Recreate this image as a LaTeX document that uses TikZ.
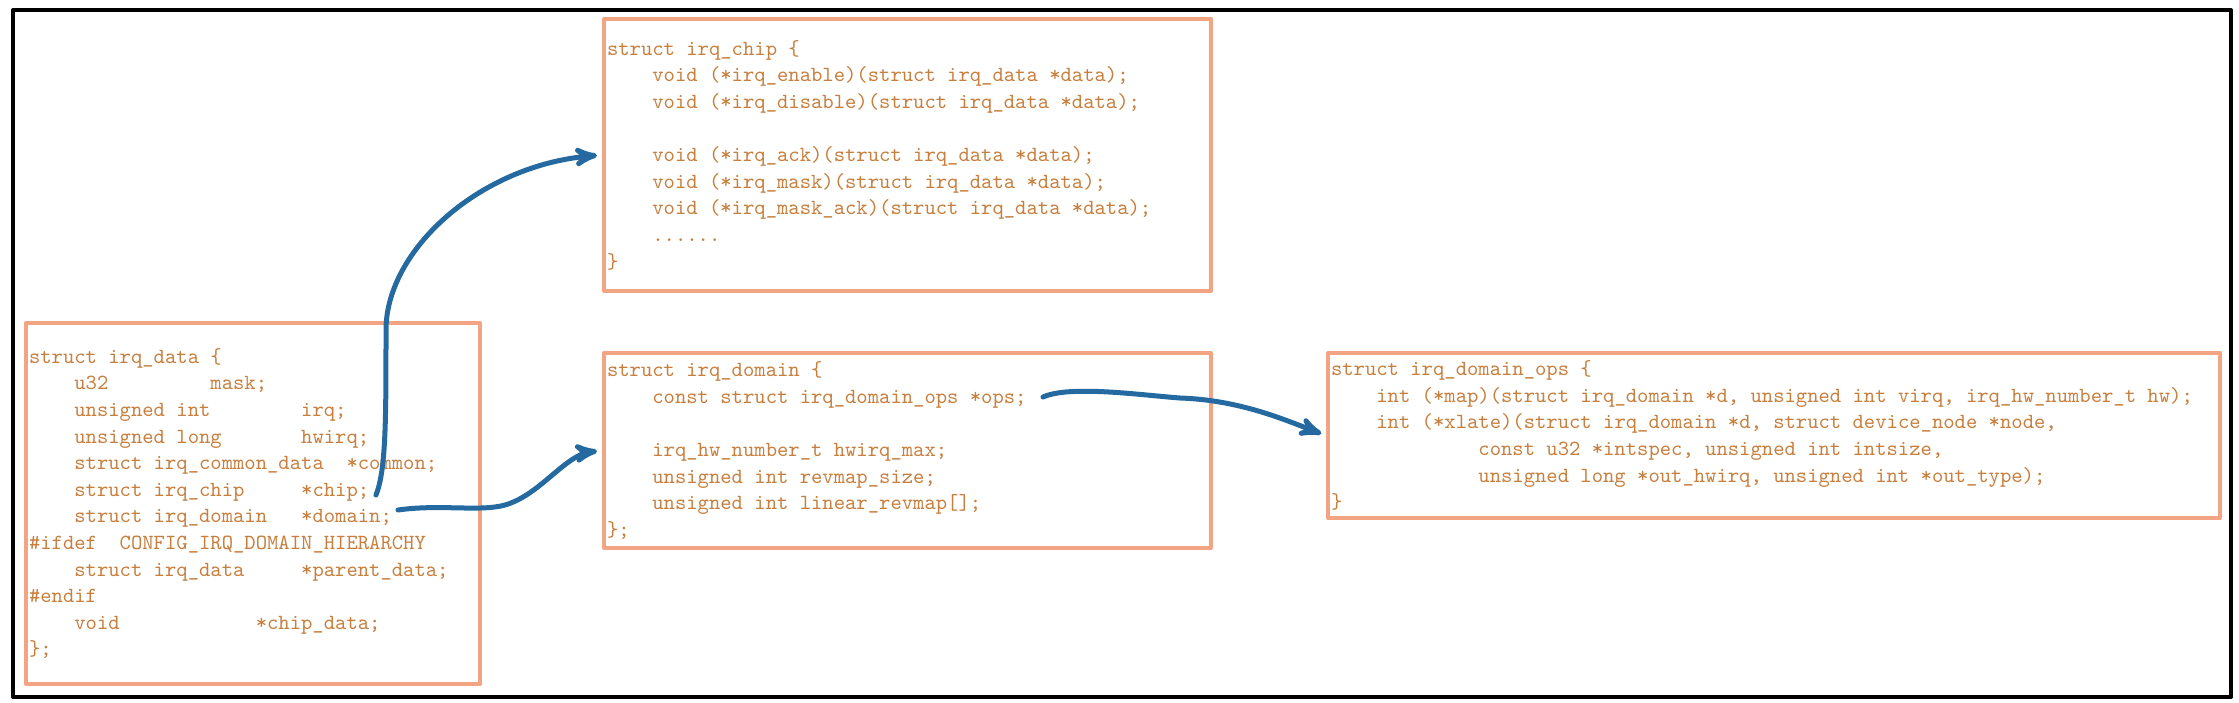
\documentclass[tikz,border=0pt]{standalone}
\usepackage{fontspec}
\setmonofont{lmmono10-regular.otf}[WordSpace={1,0,0},PunctuationSpace=WordSpace]
\usepackage{tikz}
\usetikzlibrary{arrows,positioning}
\definecolor{codetext}{RGB}{200,126,60}
\definecolor{boxline}{RGB}{243,164,130}
\definecolor{ptrblue}{RGB}{36,106,160}
\newcommand{\codesp}[1]{\hspace*{#1\fontdimen2\font}}
\newcommand{\codefont}{\fontsize{10.8}{13.3}\ttfamily\selectfont}

\begin{document}
\begin{tikzpicture}[x=0.5pt,y=-0.5pt,>=stealth',shorten >=2.5pt,
                    line join=round,line cap=round]
  \tikzstyle{codebox}=[rectangle,draw=boxline,line width=2pt,fill=white,
                       inner xsep=1.5pt,inner ysep=0pt,align=left,text=codetext,
                       font=\codefont,
                       execute at begin node={\spaceskip=\fontdimen2\font\relax}]
  \tikzstyle{pointer}=[->,draw=ptrblue,line width=2.5pt]

  \useasboundingbox (0,0) rectangle (2239,702);
  \draw[line width=2pt] (13,10) rectangle (2231,697);

  \node[codebox,minimum width=227pt,minimum height=180.5pt,text width=224pt]
        (data) at (253,503.5) {struct irq\_data \{\\
\codesp{4}u32\codesp{9}mask;\\
\codesp{4}unsigned int\codesp{8}irq;\\
\codesp{4}unsigned long\codesp{7}hwirq;\\
\codesp{4}struct irq\_common\_data\codesp{2}*common;\\
\codesp{4}struct irq\_chip\codesp{5}*chip;\\
\codesp{4}struct irq\_domain\codesp{3}*domain;\\
\#ifdef\codesp{2}CONFIG\_IRQ\_DOMAIN\_HIERARCHY\\
\codesp{4}struct irq\_data\codesp{5}*parent\_data;\\
\#endif\\
\codesp{4}void\codesp{12}*chip\_data;\\
\};};

  \node[codebox,minimum width=303.5pt,minimum height=136pt,text width=300.5pt]
        (chip) at (907.5,155) {struct irq\_chip \{\\
\codesp{4}void (*irq\_enable)(struct irq\_data *data);\\
\codesp{4}void (*irq\_disable)(struct irq\_data *data);\\
\mbox{}\\
\codesp{4}void (*irq\_ack)(struct irq\_data *data);\\
\codesp{4}void (*irq\_mask)(struct irq\_data *data);\\
\codesp{4}void (*irq\_mask\_ack)(struct irq\_data *data);\\
\codesp{4}......\\
\}};

  \node[codebox,minimum width=303.5pt,minimum height=97.5pt,text width=300.5pt]
        (dom) [below=29pt of chip] {struct irq\_domain \{\\
\codesp{4}const struct irq\_domain\_ops *ops;\\
\mbox{}\\
\codesp{4}irq\_hw\_number\_t hwirq\_max;\\
\codesp{4}unsigned int revmap\_size;\\
\codesp{4}unsigned int linear\_revmap[];\\
\};};

  \node[codebox,minimum width=446pt,minimum height=82.5pt,text width=443pt]
        (ops) [right=56.5pt of dom.north east,anchor=north west] {struct irq\_domain\_ops \{\\
\codesp{4}int (*map)(struct irq\_domain *d, unsigned int virq, irq\_hw\_number\_t hw);\\
\codesp{4}int (*xlate)(struct irq\_domain *d, struct device\_node *node,\\
\codesp{13}const u32 *intspec, unsigned int intsize,\\
\codesp{13}unsigned long *out\_hwirq, unsigned int *out\_type);\\
\}};

  % pointer fields
  \coordinate (chipptr) at (376,495);
  \coordinate (domptr)  at (398,510);
  \coordinate (opsptr)  at (1043,397);

  \draw[pointer] (chipptr) .. controls (386,470) and (386,420) .. (386,330)
                 .. controls (386,250) and (480,165) .. (chip.west);
  \draw[pointer] (domptr) .. controls (440,504) and (480,512) .. (505,505)
                 .. controls (540,495) and (565,455) .. (dom.west);
  \draw[pointer] (opsptr) .. controls (1070,385) and (1140,395) .. (1180,398)
                 .. controls (1240,400) and (1285,420) .. (ops.west);
\end{tikzpicture}
\end{document}
